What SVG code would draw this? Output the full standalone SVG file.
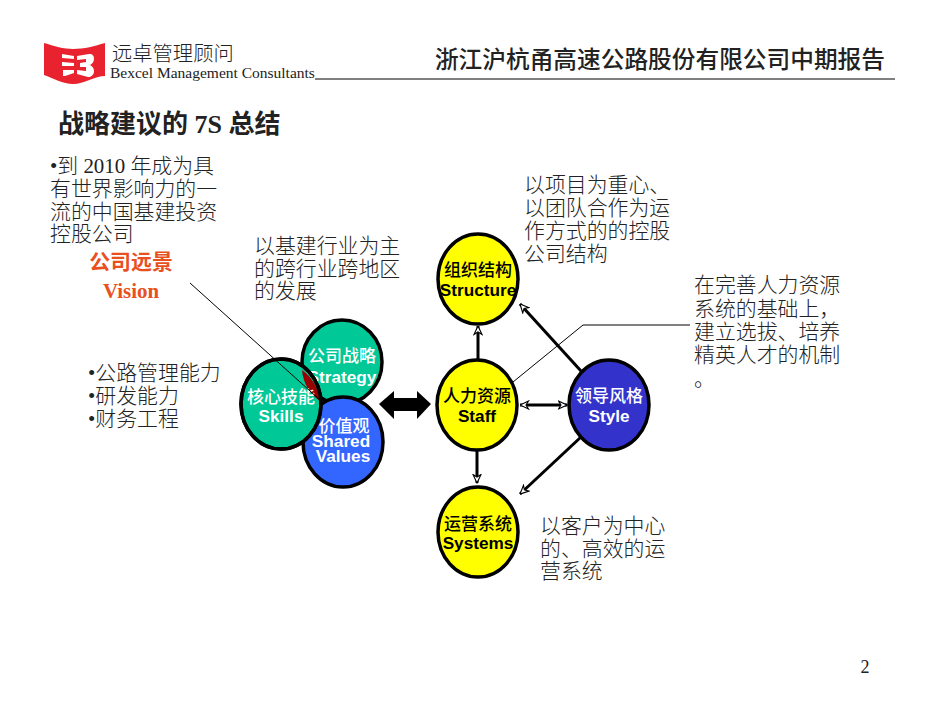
<svg xmlns="http://www.w3.org/2000/svg" width="950" height="713" viewBox="0 0 950 713">
<defs>
<marker id="a" viewBox="0 0 10 10" refX="9.5" refY="5" markerWidth="10" markerHeight="10" markerUnits="userSpaceOnUse" orient="auto-start-reverse"><path d="M1 1L9.5 5L1 9L3.5 5Z" fill="#fff" stroke="#000" stroke-width="1.1"/></marker>
</defs>
<style>
text{font-family:"Liberation Serif","Noto Sans CJK SC",serif;fill:#222}
.b{font-size:20.9px;font-weight:300}
.n{font-family:"Liberation Sans","Noto Sans CJK SC",sans-serif;font-weight:700;font-size:17.2px;text-anchor:middle;fill:#000}
.c{font-size:17px;font-family:"Liberation Sans","Noto Sans CJK SC",sans-serif;font-weight:500;text-anchor:middle;fill:#000}
.n.w,.c.w{fill:#fff}
.o{stroke:#000;stroke-width:3.5}
.l{stroke:#000;stroke-width:3;fill:none;marker-end:url(#a)}
</style>
<rect width="950" height="713" fill="#fff"/>
<g id="logo">
<path d="M44 43C54 46 64 49 73 49C84 49 95 46 105 43L105 76C95 76 84 84 73 84C63 84 53 78 44 75Z" fill="#e8222e"/>
<path d="M62 54L74 56V59L62 58ZM62 62L74 63V66L62 66ZM63 70L74 70V73L65 76L63 76ZM77 56L89 54C93 54 94 56 94 59C94 62 92 64 90 65C92 66 94 68 94 71C94 75 91 77 88 77L77 74V70L86 71V67L80 67V63L86 62V59L77 60Z" fill="#fff"/>
<text x="112" y="61" font-size="20.3" font-weight="300">远卓管理顾问</text>
<text x="110" y="78" font-size="15.5" fill="#333">Bexcel Management Consultants</text>
</g>
<path d="M315 79H895" stroke="#000" stroke-width="1"/>
<text x="885" y="68" font-size="23.7" text-anchor="end" font-weight="500">浙江沪杭甬高速公路股份有限公司中期报告</text>
<text x="58" y="133" font-size="26" font-weight="700">战略建议的 7S 总结</text>
<text x="50" y="173" class="b">•到 2010 年成为具</text>
<text x="50" y="196" class="b">有世界影响力的一</text>
<text x="50" y="219" class="b">流的中国基建投资</text>
<text x="50" y="241" class="b">控股公司</text>
<text x="131" y="269" class="b" text-anchor="middle" style="fill:#e8501e;font-weight:700">公司远景</text>
<text x="131" y="298" class="b" text-anchor="middle" style="fill:#e8501e;font-weight:700">Vision</text>
<text x="88" y="380" class="b">•公路管理能力</text>
<text x="88" y="403" class="b">•研发能力</text>
<text x="88" y="426" class="b">•财务工程</text>
<text x="254" y="253" class="b">以基建行业为主</text>
<text x="254" y="276" class="b">的跨行业跨地区</text>
<text x="254" y="298" class="b">的发展</text>
<text x="524" y="192" class="b">以项目为重心、</text>
<text x="524" y="215" class="b">以团队合作为运</text>
<text x="524" y="238" class="b">作方式的的控股</text>
<text x="524" y="261" class="b">公司结构</text>
<text x="694" y="292" class="b">在完善人力资源</text>
<text x="694" y="316" class="b">系统的基础上，</text>
<text x="694" y="339" class="b">建立选拔、培养</text>
<text x="694" y="362" class="b">精英人才的机制</text>
<text x="694" y="386" class="b">。</text>
<text x="540" y="533" class="b">以客户为中心</text>
<text x="540" y="556" class="b">的、高效的运</text>
<text x="540" y="578" class="b">营系统</text>
<text x="865" y="673" font-size="18" text-anchor="middle">2</text>
<g id="strategy"><ellipse cx="342" cy="362" rx="40" ry="42" fill="#00c896" class="o"/><text x="342" y="362" class="c w">公司战略</text><text x="342" y="383" class="n w">Strategy</text></g>
<g id="values"><ellipse cx="343" cy="442" rx="40" ry="45" fill="#3366ff" class="o"/><text x="344" y="432" class="c w">价值观</text><text x="341" y="447" class="n w">Shared</text><text x="343" y="462" class="n w">Values</text></g>
<g id="skills"><ellipse cx="281" cy="404" rx="40" ry="45" fill="#00c896" class="o"/><path d="M302 370A40 45 0 0 1 320 401A40 42 0 0 1 302 370Z" fill="#990000"/><ellipse cx="281" cy="404" rx="40" ry="45" fill="none" class="o"/><text x="281" y="403" class="c w">核心技能</text><text x="281" y="422" class="n w">Skills</text></g>
<g id="structure"><ellipse cx="478" cy="279" rx="40" ry="45" fill="#ffff00" class="o"/><text x="478" y="276" class="c">组织结构</text><text x="478" y="296" class="n">Structure</text></g>
<g id="staff"><ellipse cx="477" cy="405" rx="40" ry="45" fill="#ffff00" class="o"/><text x="477" y="402" class="c">人力资源</text><text x="477" y="422" class="n">Staff</text></g>
<g id="systems"><ellipse cx="478" cy="532" rx="40" ry="45" fill="#ffff00" class="o"/><text x="478" y="530" class="c">运营系统</text><text x="478" y="549" class="n">Systems</text></g>
<g id="style"><ellipse cx="609" cy="405" rx="40" ry="45" fill="#3333cc" class="o"/><text x="609" y="402" class="c w">领导风格</text><text x="609" y="422" class="n w">Style</text></g>
<g id="connectors">
<path d="M190 283L320 400" stroke="#000" stroke-width="1" fill="none"/>
<path d="M513 382L583 325H690" stroke="#000" stroke-width="1" fill="none"/>
<path d="M478 359V326" class="l"/>
<path d="M477 450V483" class="l"/>
<path d="M581 371L520 304" class="l"/>
<path d="M581 437L520 494" class="l"/>
<path d="M520 405H567" class="l" style="marker-start:url(#a)"/>
<path d="M379 404L394 391V398H417V391L431 404L417 419V411H394V419Z" fill="#000"/>
</g>
</svg>
